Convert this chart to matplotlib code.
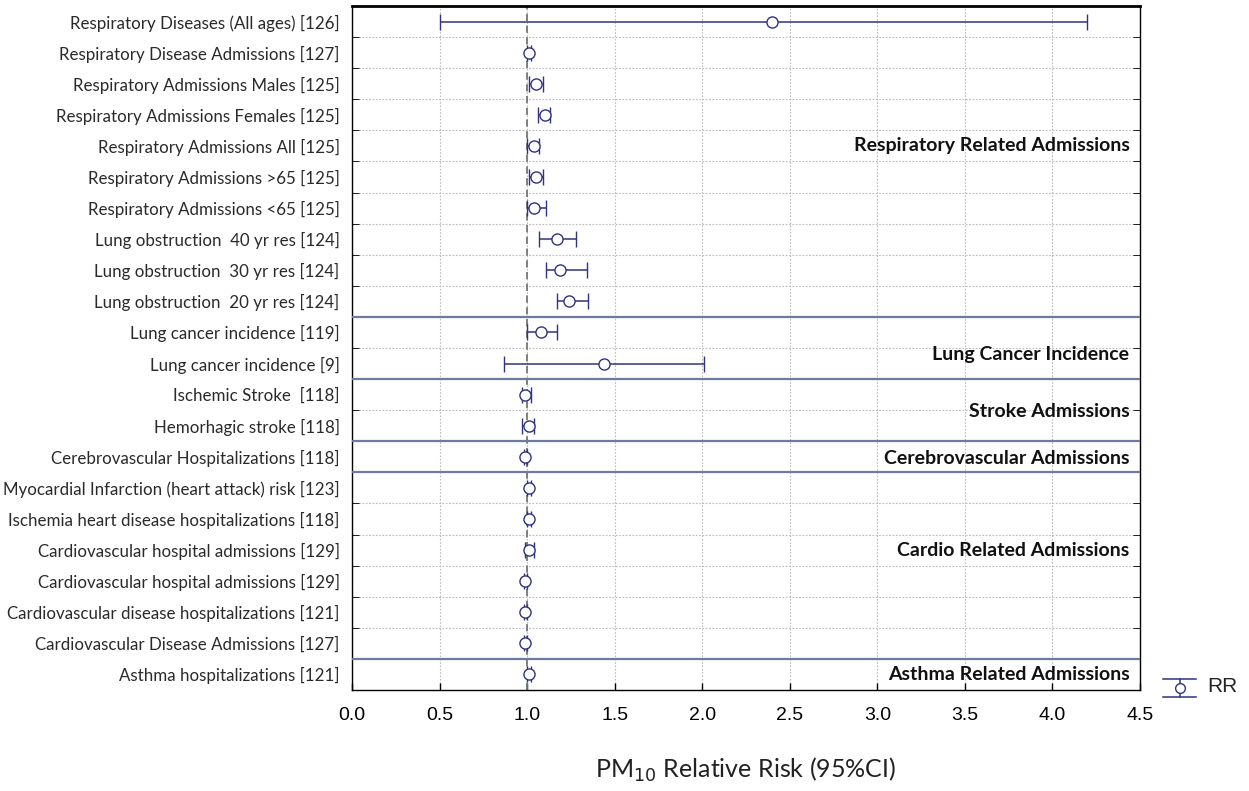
import matplotlib
matplotlib.use("Agg")
import matplotlib.pyplot as plt
from matplotlib.lines import Line2D

labels = [
    "Respiratory Diseases (All ages) [126]",
    "Respiratory Disease Admissions [127]",
    "Respiratory Admissions Males [125]",
    "Respiratory Admissions Females [125]",
    "Respiratory Admissions All [125]",
    "Respiratory Admissions >65 [125]",
    "Respiratory Admissions <65 [125]",
    "Lung obstruction  40 yr res [124]",
    "Lung obstruction  30 yr res [124]",
    "Lung obstruction  20 yr res [124]",
    "Lung cancer incidence [119]",
    "Lung cancer incidence [9]",
    "Ischemic Stroke  [118]",
    "Hemorhagic stroke [118]",
    "Cerebrovascular Hospitalizations [118]",
    "Myocardial Infarction (heart attack) risk [123]",
    "Ischemia heart disease hospitalizations [118]",
    "Cardiovascular hospital admissions [129]",
    "Cardiovascular hospital admissions [129]",
    "Cardiovascular disease hospitalizations [121]",
    "Cardiovascular Disease Admissions [127]",
    "Asthma hospitalizations [121]",
]
rr = [2.40, 1.01, 1.05, 1.10, 1.04, 1.05, 1.04, 1.17, 1.19, 1.24, 1.08, 1.44,
      0.99, 1.01, 0.99, 1.01, 1.01, 1.01, 0.99, 0.99, 0.99, 1.01]
ci_low = [0.50, 1.00, 1.01, 1.06, 1.00, 1.01, 1.00, 1.07, 1.11, 1.17, 1.00, 0.87,
          0.97, 0.97, 0.98, 1.00, 1.00, 0.99, 0.98, 0.98, 0.98, 1.00]
ci_high = [4.20, 1.02, 1.09, 1.13, 1.07, 1.09, 1.11, 1.28, 1.34, 1.35, 1.17, 2.01,
           1.02, 1.04, 1.00, 1.02, 1.02, 1.04, 1.00, 1.00, 1.00, 1.02]

groups = ["Respiratory Related Admissions", "Lung Cancer Incidence", "Stroke Admissions",
          "Cerebrovascular Admissions", "Cardio Related Admissions", "Asthma Related Admissions"]
group_label_rows = [4.0, 10.7, 12.55, 14.05, 17.0, 21.0]
group_separators = [9.5, 11.5, 13.5, 14.5, 20.5]

xticks = [0.0, 0.5, 1.0, 1.5, 2.0, 2.5, 3.0, 3.5, 4.0, 4.5]

lab_font = ["Lato", "DejaVu Sans"]
navy = "#2f3380"

W, H = 1249, 791
fig = plt.figure(figsize=(W / 100, H / 100), dpi=100)
ax = fig.add_axes([352 / W, 1 - 690 / H, (1140 - 352) / W, (690 - 6) / H])

n = len(labels)
ys = list(range(n))
xerr = [[r - l for r, l in zip(rr, ci_low)], [h - r for r, h in zip(rr, ci_high)]]
ax.errorbar(rr, ys, xerr=xerr, fmt="o", color=navy, mfc="white", mec=navy,
            ms=8, mew=1.0, ecolor=navy, elinewidth=1.1, capsize=6, capthick=1.1, zorder=4)

ax.set_xlim(0, 4.5)
ax.set_ylim(n - 0.5, -0.5)
ax.set_xticks(xticks)
ax.set_xticklabels([f"{t:.1f}" for t in xticks], fontfamily="Liberation Sans", fontsize=14)
ax.set_yticks(ys)
ax.set_yticklabels(labels, fontfamily=lab_font, fontsize=12.2, color="#2a2a2a")
ax.tick_params(axis="y", length=0, pad=9)
ax.tick_params(axis="x", direction="in", length=5, pad=12, width=1)

bounds = [i + 0.5 for i in range(n - 1)]
ax.set_yticks(bounds, minor=True)
ax.tick_params(axis="y", which="minor", direction="in", length=5, left=True, right=True)
ax.grid(True, which="minor", axis="y", linestyle=(0, (1.5, 1.5)), color="#bbbbbb", lw=0.8)
ax.grid(True, which="major", axis="x", linestyle=(0, (1.5, 1.5)), color="#bbbbbb", lw=0.8)
ax.set_axisbelow(True)

ax.axvline(1.0, color="#777777", linestyle=(0, (4, 2.5)), lw=1.3, zorder=2)

for s in group_separators:
    ax.axhline(s, color="#6d7c9c", lw=1.6, zorder=3)

for g, r in zip(groups, group_label_rows):
    ax.text(4.44, r, g, ha="right", va="center", fontfamily=lab_font,
            fontweight="bold", fontsize=14, color="#111111", zorder=5)

for sp in ax.spines.values():
    sp.set_color("black")
    sp.set_linewidth(1.0)
ax.spines["top"].set_linewidth(2.0)

fig.text(746 / W, 1 - 770 / H, "PM$_{10}$ Relative Risk (95%CI)", ha="center", va="center",
         fontfamily=lab_font, fontsize=18, color="#222222")

# legend symbol (vertical error bar with caps) and label
def px(x, y):
    return x / W, 1 - y / H

for (x0, y0), (x1, y1) in [((1163, 679), (1196, 679)), ((1163, 697), (1196, 697)),
                           ((1179.5, 679), (1179.5, 697))]:
    fig.add_artist(Line2D([x0 / W, x1 / W], [1 - y0 / H, 1 - y1 / H], color=navy, lw=1.1))
fig.add_artist(Line2D([1179.5 / W], [1 - 688 / H], marker="o", ms=7, mfc="white", mec=navy,
                      mew=1.0, color=navy))
fig.text(1207 / W, 1 - 686 / H, "RR", ha="left", va="center",
         fontfamily="Liberation Sans", fontsize=15, color="#222222")

fig.savefig("out.png", dpi=100)
